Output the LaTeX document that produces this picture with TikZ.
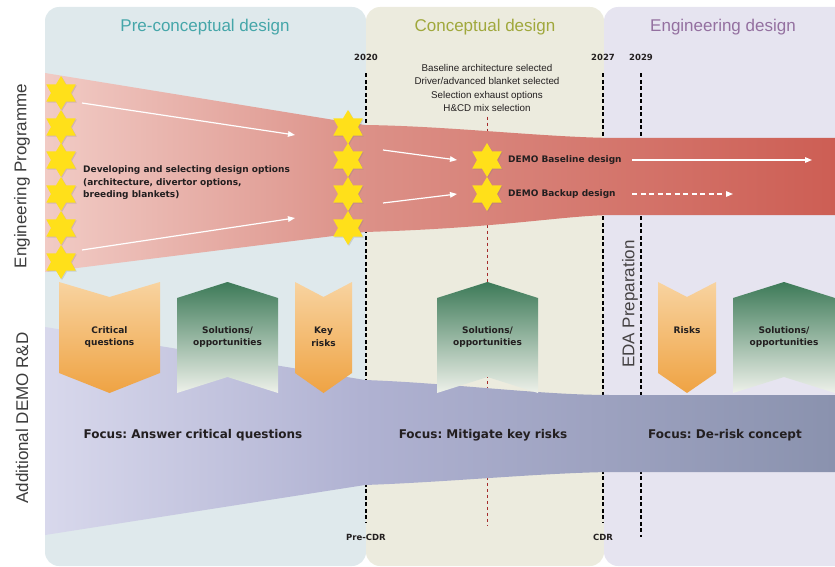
\documentclass[tikz,border=0pt]{standalone}
\usepackage{fontspec}
\setmainfont{Liberation Sans}
\newfontfamily\heavyfont{DejaVu Sans}
\usetikzlibrary{arrows.meta,shapes.geometric,shadows}
\frenchspacing

\definecolor{prebg}{HTML}{DFE9EC}
\definecolor{conbg}{HTML}{ECEBDE}
\definecolor{engbg}{HTML}{E6E4F0}
\definecolor{pretitle}{HTML}{45A6A9}
\definecolor{contitle}{HTML}{A0A83C}
\definecolor{engtitle}{HTML}{9470A0}
\definecolor{progA}{HTML}{F1CBC5}
\definecolor{progB}{HTML}{DC9188}
\definecolor{progC}{HTML}{CD5E54}
\definecolor{rdA}{HTML}{D8D8EC}
\definecolor{rdB}{HTML}{B0B2D2}
\definecolor{rdC}{HTML}{8A92AE}
\definecolor{orangetop}{HTML}{F8D3A0}
\definecolor{orangebot}{HTML}{EFA343}
\definecolor{greentop}{HTML}{3D7A58}
\definecolor{greenmid}{HTML}{AFC6B6}
\definecolor{greenbot}{HTML}{EEF1EA}
\definecolor{starfill}{HTML}{FFE01A}
\definecolor{ink}{HTML}{231F20}
\definecolor{sidegray}{HTML}{3C3C3C}
\definecolor{reddash}{HTML}{A52A2A}

% band shadings (inner square 25bp--75bp covers the path)
\pgfdeclarehorizontalshading{progshade}{100bp}{color(0bp)=(progA); color(25bp)=(progA); color(45bp)=(progB); color(75bp)=(progC); color(100bp)=(progC)}
\pgfdeclarehorizontalshading{rdshade}{100bp}{color(0bp)=(rdA); color(25bp)=(rdA); color(45bp)=(rdB); color(75bp)=(rdC); color(100bp)=(rdC)}

\tikzset{
  phase/.style={rounded corners=14pt},
  title/.style={font=\fontsize{17}{20}\selectfont},
  sidelabel/.style={font=\fontsize{17}{20}\selectfont, text=sidegray, rotate=90},
  year/.style={font=\heavyfont\bfseries\fontsize{8.5}{10}\selectfont, text=ink},
  yearline/.style={line width=1.3pt, dash pattern=on 4pt off 2.5pt},
  milestone/.style={font=\fontsize{9.8}{13.3}\selectfont, text=ink, align=center},
  boldlabel/.style={font=\heavyfont\bfseries\fontsize{9}{12.5}\selectfont, text=ink, align=center},
  focus/.style={font=\heavyfont\bfseries\fontsize{12}{14}\selectfont, text=ink},
  risk/.style={top color=orangetop, bottom color=orangebot},
  sol/.style={top color=greentop, middle color=greenmid, bottom color=greenbot},
  gate/.style={star, star points=6, star point ratio=1.7, fill=starfill, minimum size=34pt, inner sep=0pt,
    drop shadow={opacity=0.25, shadow xshift=1pt, shadow yshift=-1pt}},
  flow/.style={draw=white, line width=1.2pt, -{Triangle[length=7pt,width=5.5pt]}},
}

\begin{document}
\begin{tikzpicture}[x=1pt, y=-1pt, every node/.style={inner sep=2pt}]
  \useasboundingbox (0,0) rectangle (835,567);

  % Phase panels
  \fill[prebg, phase] (45,7) rectangle (366,566);
  \fill[conbg, phase] (366,7) rectangle (604,566);
  \fill[engbg, phase] (604,7) rectangle (870,566);
  \node[title, text=pretitle] (tpre) at (205,27) {Pre-conceptual design};
  \node[title, text=contitle] (tcon) at (485,27) {Conceptual design};
  \node[title, text=engtitle] (teng) at (723,27) {Engineering design};

  % Row labels
  \node[sidelabel] (eprog) at (22,176) {Engineering Programme};
  \node[sidelabel] (addrd) at (22,418) {Additional DEMO R\&D};

  % Milestones and reviews
  \node[year] (y2020) at (366,57) {2020};
  \node[year] (y2027) at (603,57) {2027};
  \node[year] (y2029) at (641,57) {2029};
  \node[year] (precdr) at (366,537) {Pre-CDR};
  \node[year] (cdr) at (603,537) {CDR};
  \coordinate (e2029) at (641,537);
  \node[milestone] (select) at (487,88) {Baseline architecture selected\\Driver/advanced blanket selected\\Selection exhaust options\\H\&CD mix selection};
  \coordinate (eselect) at (487,525);
  \draw[yearline, shorten <=11pt, shorten >=9pt] (y2020) -- (precdr);
  \draw[yearline, shorten <=11pt, shorten >=9pt] (y2027) -- (cdr);
  \draw[yearline, shorten <=11pt] (y2029) -- (e2029);
  \draw[reddash, line width=0.9pt, dash pattern=on 3pt off 3pt, shorten <=3pt] (select) -- (eselect);

  % Engineering programme band
  \path[shading=progshade] (45,73) -- (365,125) .. controls (450,126) and (550,138) .. (620,138)
    -- (835,138) -- (835,215) -- (610,215) .. controls (560,216) and (500,228) .. (365,232)
    -- (45,272) -- cycle;

  % R&D band
  \path[shading=rdshade] (45,327) -- (365,380) .. controls (450,383) and (540,395) .. (610,395)
    -- (835,395) -- (835,472) -- (610,472) .. controls (540,473) and (450,482) .. (365,485)
    -- (45,535) -- cycle;

  % Questions and risks (down), solutions (up)
  \foreach \cx/\hw in {109.5/50.5, 323.5/28.5, 687/29} {
    \path[risk] (\cx-\hw,282) -- (\cx,297) -- (\cx+\hw,282) -- (\cx+\hw,373)
      -- (\cx,393) -- (\cx-\hw,373) -- cycle;
  }
  \foreach \cx/\hw in {227.5/50.5, 487.5/50.5, 784/51} {
    \path[sol] (\cx-\hw,298) -- (\cx,282) -- (\cx+\hw,298) -- (\cx+\hw,393)
      -- (\cx,377) -- (\cx-\hw,393) -- cycle;
  }
  \node[boldlabel] (critq) at (109.5,337) {Critical\\questions};
  \node[boldlabel] (sola) at (227.5,337) {Solutions/\\opportunities};
  \node[boldlabel] (keyr) at (323.5,337) {Key\\risks};
  \node[boldlabel] (solb) at (487.5,337) {Solutions/\\opportunities};
  \node[boldlabel] (risks) at (687,330) {Risks};
  \node[boldlabel] (solc) at (784,337) {Solutions/\\opportunities};

  \node[sidelabel, text=ink!85] (eda) at (630,304) {EDA Preparation};

  % Design option stars
  \foreach \y in {93,127,160,194,228,262} {
    \node[gate] at (61,\y) {};
  }
  \foreach \y in {127,160,194,228} {
    \node[gate] at (348,\y) {};
  }
  \node[gate] (base) at (487,160) {};
  \node[gate] (backup) at (487,194) {};

  % Flow arrows
  \coordinate (a1s) at (82,103);  \coordinate (a1e) at (295,135);
  \coordinate (a2s) at (82,250);  \coordinate (a2e) at (295,218);
  \coordinate (a3s) at (383,150); \coordinate (a3e) at (457,160);
  \coordinate (a4s) at (383,203); \coordinate (a4e) at (457,194);
  \coordinate (a5s) at (632,160); \coordinate (a5e) at (812,160);
  \coordinate (a6s) at (632,194); \coordinate (a6e) at (733,194);
  \draw[flow] (a1s) -- (a1e);
  \draw[flow] (a2s) -- (a2e);
  \draw[flow] (a3s) -- (a3e);
  \draw[flow] (a4s) -- (a4e);
  \draw[flow] (a5s) -- (a5e);
  \draw[flow, dash pattern=on 5pt off 3.5pt] (a6s) -- (a6e);

  \node[boldlabel, anchor=west, align=left] (options) at (81,183) {Developing and selecting design options\\(architecture, divertor options,\\breeding blankets)};
  \node[boldlabel, anchor=west] (lbase) at (506,160) {DEMO Baseline design};
  \node[boldlabel, anchor=west] (lbackup) at (506,194) {DEMO Backup design};

  % Focus of each phase
  \node[focus] (fcrit) at (193,435) {Focus: Answer critical questions};
  \node[focus] (fmit) at (483,435) {Focus: Mitigate key risks};
  \node[focus] (fderisk) at (725,435) {Focus: De-risk concept};
\end{tikzpicture}
\end{document}
